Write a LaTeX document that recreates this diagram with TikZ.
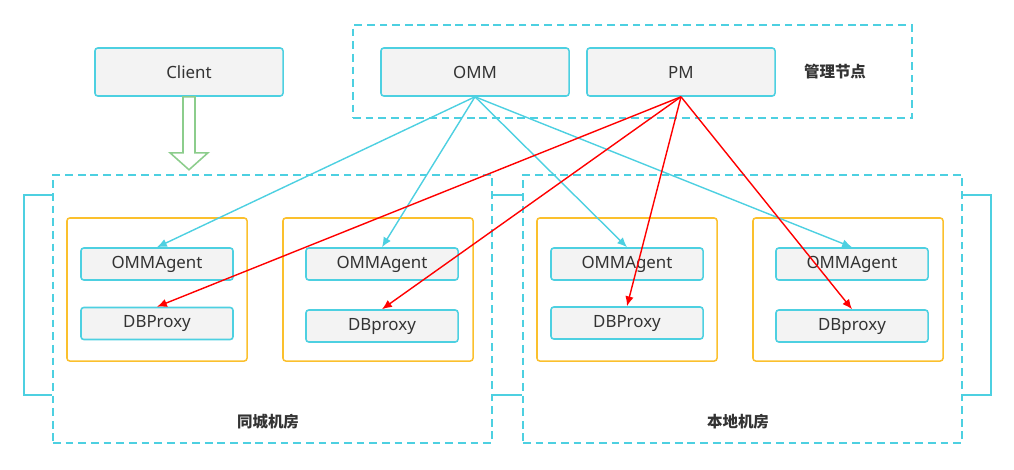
\documentclass[tikz,border=0pt]{standalone}
\usepackage{fontspec}
\setmainfont{Noto Sans}
\newfontfamily\cjk{Noto Sans CJK SC}
\usetikzlibrary{arrows.meta}

\definecolor{cyanline}{RGB}{77,208,225}
\definecolor{boxfill}{RGB}{243,243,243}
\definecolor{grpline}{RGB}{251,192,45}
\definecolor{greenarrow}{RGB}{140,205,140}
\definecolor{txt}{RGB}{51,51,51}

\tikzset{
  box/.style={draw=cyanline, fill=boxfill, line width=1.1pt, rounded corners=2pt,
    minimum width=4.7cm, minimum height=1.2cm, inner sep=0pt, text=txt, font=\fontsize{12}{14}\selectfont},
  agentbox/.style={box, minimum width=3.8cm, minimum height=0.8cm},
  room/.style={draw=cyanline, line width=1.1pt, dash pattern=on 5.5pt off 3.5pt,
    minimum width=10.975cm, minimum height=6.7cm, inner sep=0pt},
  grp/.style={draw=grpline, line width=1.1pt, rounded corners=2pt,
    minimum width=4.5cm, minimum height=3.575cm, inner sep=0pt},
  tag/.style={text=txt, font=\cjk\bfseries\fontsize{11}{13}\selectfont},
  omline/.style={draw=cyanline, line width=1pt, -{Latex[length=7pt,width=6pt]}},
  pmline/.style={draw=red, line width=1pt, -{Latex[length=7pt,width=6pt]}},
  bracket/.style={draw=cyanline, line width=1.1pt}
}

\begin{document}
\begin{tikzpicture}[x=0.025cm, y=-0.025cm]
    \useasboundingbox (0,0) rectangle (1014,469);

    % Management
    \node[room, minimum width=13.975cm, minimum height=2.325cm] (mgmt) at (632.5,71.5) {};
    \node[box] (omm) at (475,72) {OMM};
    \node[box] (pm) at (681,72) {PM};
    \node[tag] (mgmttag) at (835,72) {管理节点};

    % Client
    \node[box] (client) at (189,72) {Client};

    % Rooms
    \node[room] (roomA) at (272.5,309) {};
    \node[room] (roomB) at (742.5,309) {};
    \node[tag] (roomAtag) at (268,422) {同城机房};
    \node[tag] (roomBtag) at (738,422) {本地机房};

    % Groups
    \node[grp] (grpA1) at (157,289.5) {};
    \node[grp, minimum width=4.75cm] (grpA2) at (378,289.5) {};
    \node[grp] (grpB1) at (627,289.5) {};
    \node[grp, minimum width=4.75cm] (grpB2) at (848,289.5) {};

    \node[agentbox] (agentA1) at (157,264) {OMMAgent};
    \node[agentbox] (proxyA1) at (157,323.5) {DBProxy};
    \node[agentbox] (agentA2) at (382,264) {OMMAgent};
    \node[agentbox] (proxyA2) at (382,326) {DBproxy};
    \node[agentbox] (agentB1) at (627,264) {OMMAgent};
    \node[agentbox] (proxyB1) at (627,323) {DBProxy};
    \node[agentbox] (agentB2) at (852,264) {OMMAgent};
    \node[agentbox] (proxyB2) at (852,326) {DBproxy};

    % Brackets
    \draw[bracket] (roomA.west |- 0,195) -- ++(-28,0) -- ++(0,200) -- (roomA.west |- 0,395);
    \draw[bracket] (roomA.east |- 0,195) -- (roomB.west |- 0,195);
    \draw[bracket] (roomA.east |- 0,395) -- (roomB.west |- 0,395);
    \draw[bracket] (roomB.east |- 0,195) -- ++(28,0) -- ++(0,200) -- (roomB.east |- 0,395);

    % Client arrow
    \draw[greenarrow, line width=1.1pt, fill=white]
      ([xshift=-6*0.025cm]client.south) -- ++(0,56) -- ++(-13,0) -- ++(19,17)
      -- ++(19,-17) -- ++(-13,0) -- ++(0,-56) -- cycle;

    % OMM links
    \foreach \t in {agentA1,agentA2,agentB1,agentB2}
      \draw[omline] (omm.south) -- (\t.north);

    % PM links
    \foreach \t in {proxyA1,proxyA2,proxyB1,proxyB2}
      \draw[pmline] (pm.south) -- (\t.north);
\end{tikzpicture}
\end{document}
